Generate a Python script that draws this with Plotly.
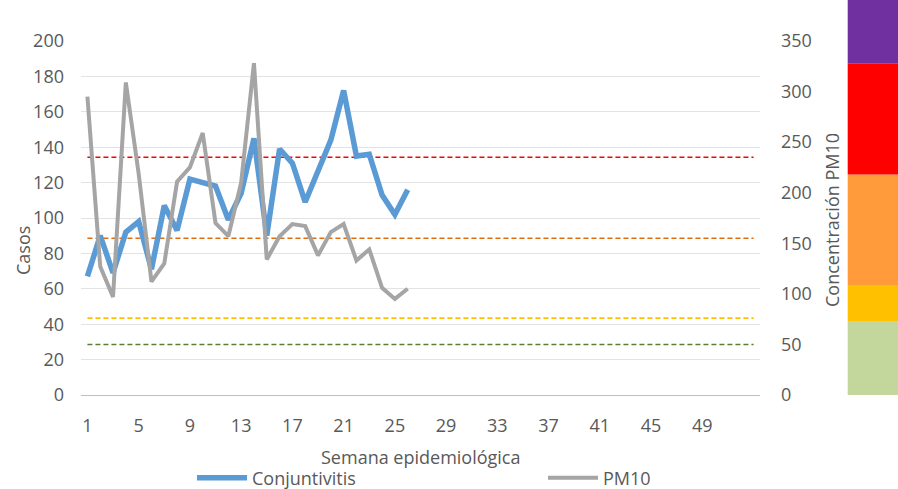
import plotly.graph_objects as go

# ---- data ----
weeks = list(range(1, 27))
conjuntivitis = [67, 90, 69, 92, 98, 71, 107, 93, 122, 120, 118, 99, 114, 145,
                 90, 139, 131, 109, 127, 144, 172, 135, 136, 113, 102, 116]
pm10 = [295, 127, 97, 309, 219, 112, 130, 211, 225, 259, 170, 157, 210, 328,
        134, 157, 169, 167, 138, 161, 169, 133, 144, 106, 95, 105]
threshold_values = [50, 76, 155, 235]
threshold_colors = ["#548235", "#ffc000", "#e46c0a", "#ff0000"]
week_span = [1, 53]
x_tick_labels = list(range(1, 53, 4))
band_edges = [0, 72.5, 108.8, 218, 328, 391]
band_colors = ["#c3d69b", "#ffc000", "#ff9b3a", "#ff0000", "#7030a0"]

W, H = 898, 489
L, R, T, B = 81, 138, 41, 94
pw = W - L - R
ph = H - T - B

font_fam = "Open Sans"
txt = "#595959"

fig = go.Figure()

fig.add_trace(go.Scatter(
    x=weeks, y=conjuntivitis, name="Conjuntivitis", mode="lines",
    line=dict(color="#5b9bd5", width=5.5), xaxis="x", yaxis="y",
    legendwidth=286))
fig.add_trace(go.Scatter(
    x=weeks, y=pm10, name="PM10", mode="lines",
    line=dict(color="#a5a5a5", width=4), xaxis="x", yaxis="y2",
    legendwidth=60))

shapes = []
for v, c in zip(threshold_values, threshold_colors):
    shapes.append(dict(type="line", xref="x", yref="y2",
                       x0=week_span[0], x1=week_span[1], y0=v, y1=v,
                       line=dict(color=c, width=1.6, dash="5px,3px"),
                       layer="below"))

# right-side colour scale bar
x0p = (847.7 - L) / pw
x1p = (W - L) / pw + 0.01
for i, c in enumerate(band_colors):
    shapes.append(dict(type="rect", xref="paper", yref="paper",
                       x0=x0p, x1=x1p,
                       y0=band_edges[i] / 350, y1=band_edges[i + 1] / 350,
                       fillcolor=c, line=dict(width=0), layer="above"))

annotations = [
    dict(text="Casos", xref="paper", yref="paper",
         x=(23 - L) / pw, y=(H - B - 251) / ph, textangle=-90,
         showarrow=False, font=dict(family=font_fam, size=18, color=txt),
         xanchor="center", yanchor="middle"),
    dict(text="Concentración PM10", xref="paper", yref="paper",
         x=(832 - L) / pw, y=(H - B - 220) / ph, textangle=-90,
         showarrow=False, font=dict(family=font_fam, size=18, color=txt),
         xanchor="center", yanchor="middle"),
    dict(text="Semana epidemiológica", xref="paper", yref="paper",
         x=0.5, y=(H - B - 457) / ph,
         showarrow=False, font=dict(family=font_fam, size=18, color=txt),
         xanchor="center", yanchor="middle"),
]

fig.update_layout(
    width=W, height=H,
    margin=dict(l=L, r=R, t=T, b=B, autoexpand=False),
    plot_bgcolor="white", paper_bgcolor="white",
    font=dict(family=font_fam, size=18, color=txt),
    shapes=shapes, annotations=annotations,
    xaxis=dict(range=[0.5, 53.5], tickmode="array", tickvals=x_tick_labels,
               ticktext=[str(v) for v in x_tick_labels],
               showgrid=False, showline=True, linecolor="#bfbfbf", linewidth=1,
               ticks="", ticklabelstandoff=14, zeroline=False,
               tickfont=dict(size=18, color=txt)),
    yaxis=dict(range=[0, 200], dtick=20, showgrid=True, gridcolor="#e3e3e3",
               gridwidth=1, zeroline=False, showline=False, ticks="",
               ticklabelstandoff=16, tickfont=dict(size=18, color=txt)),
    yaxis2=dict(range=[0, 350], dtick=50, overlaying="y", side="right",
                showgrid=False, zeroline=False, showline=False, ticks="",
                ticklabelstandoff=20, tickfont=dict(size=18, color=txt)),
    legend=dict(orientation="h", x=(192 - L) / pw, xanchor="left",
                y=(H - B - 478) / ph, yanchor="middle",
                entrywidthmode="pixels",
                font=dict(size=18, color=txt), bgcolor="rgba(0,0,0,0)",
                itemwidth=50),
    showlegend=True,
)

fig.write_html("out.html",
               config={"displayModeBar": False},
               post_script="document.body.style.margin='0';"
                           "document.body.style.overflow='hidden';")
